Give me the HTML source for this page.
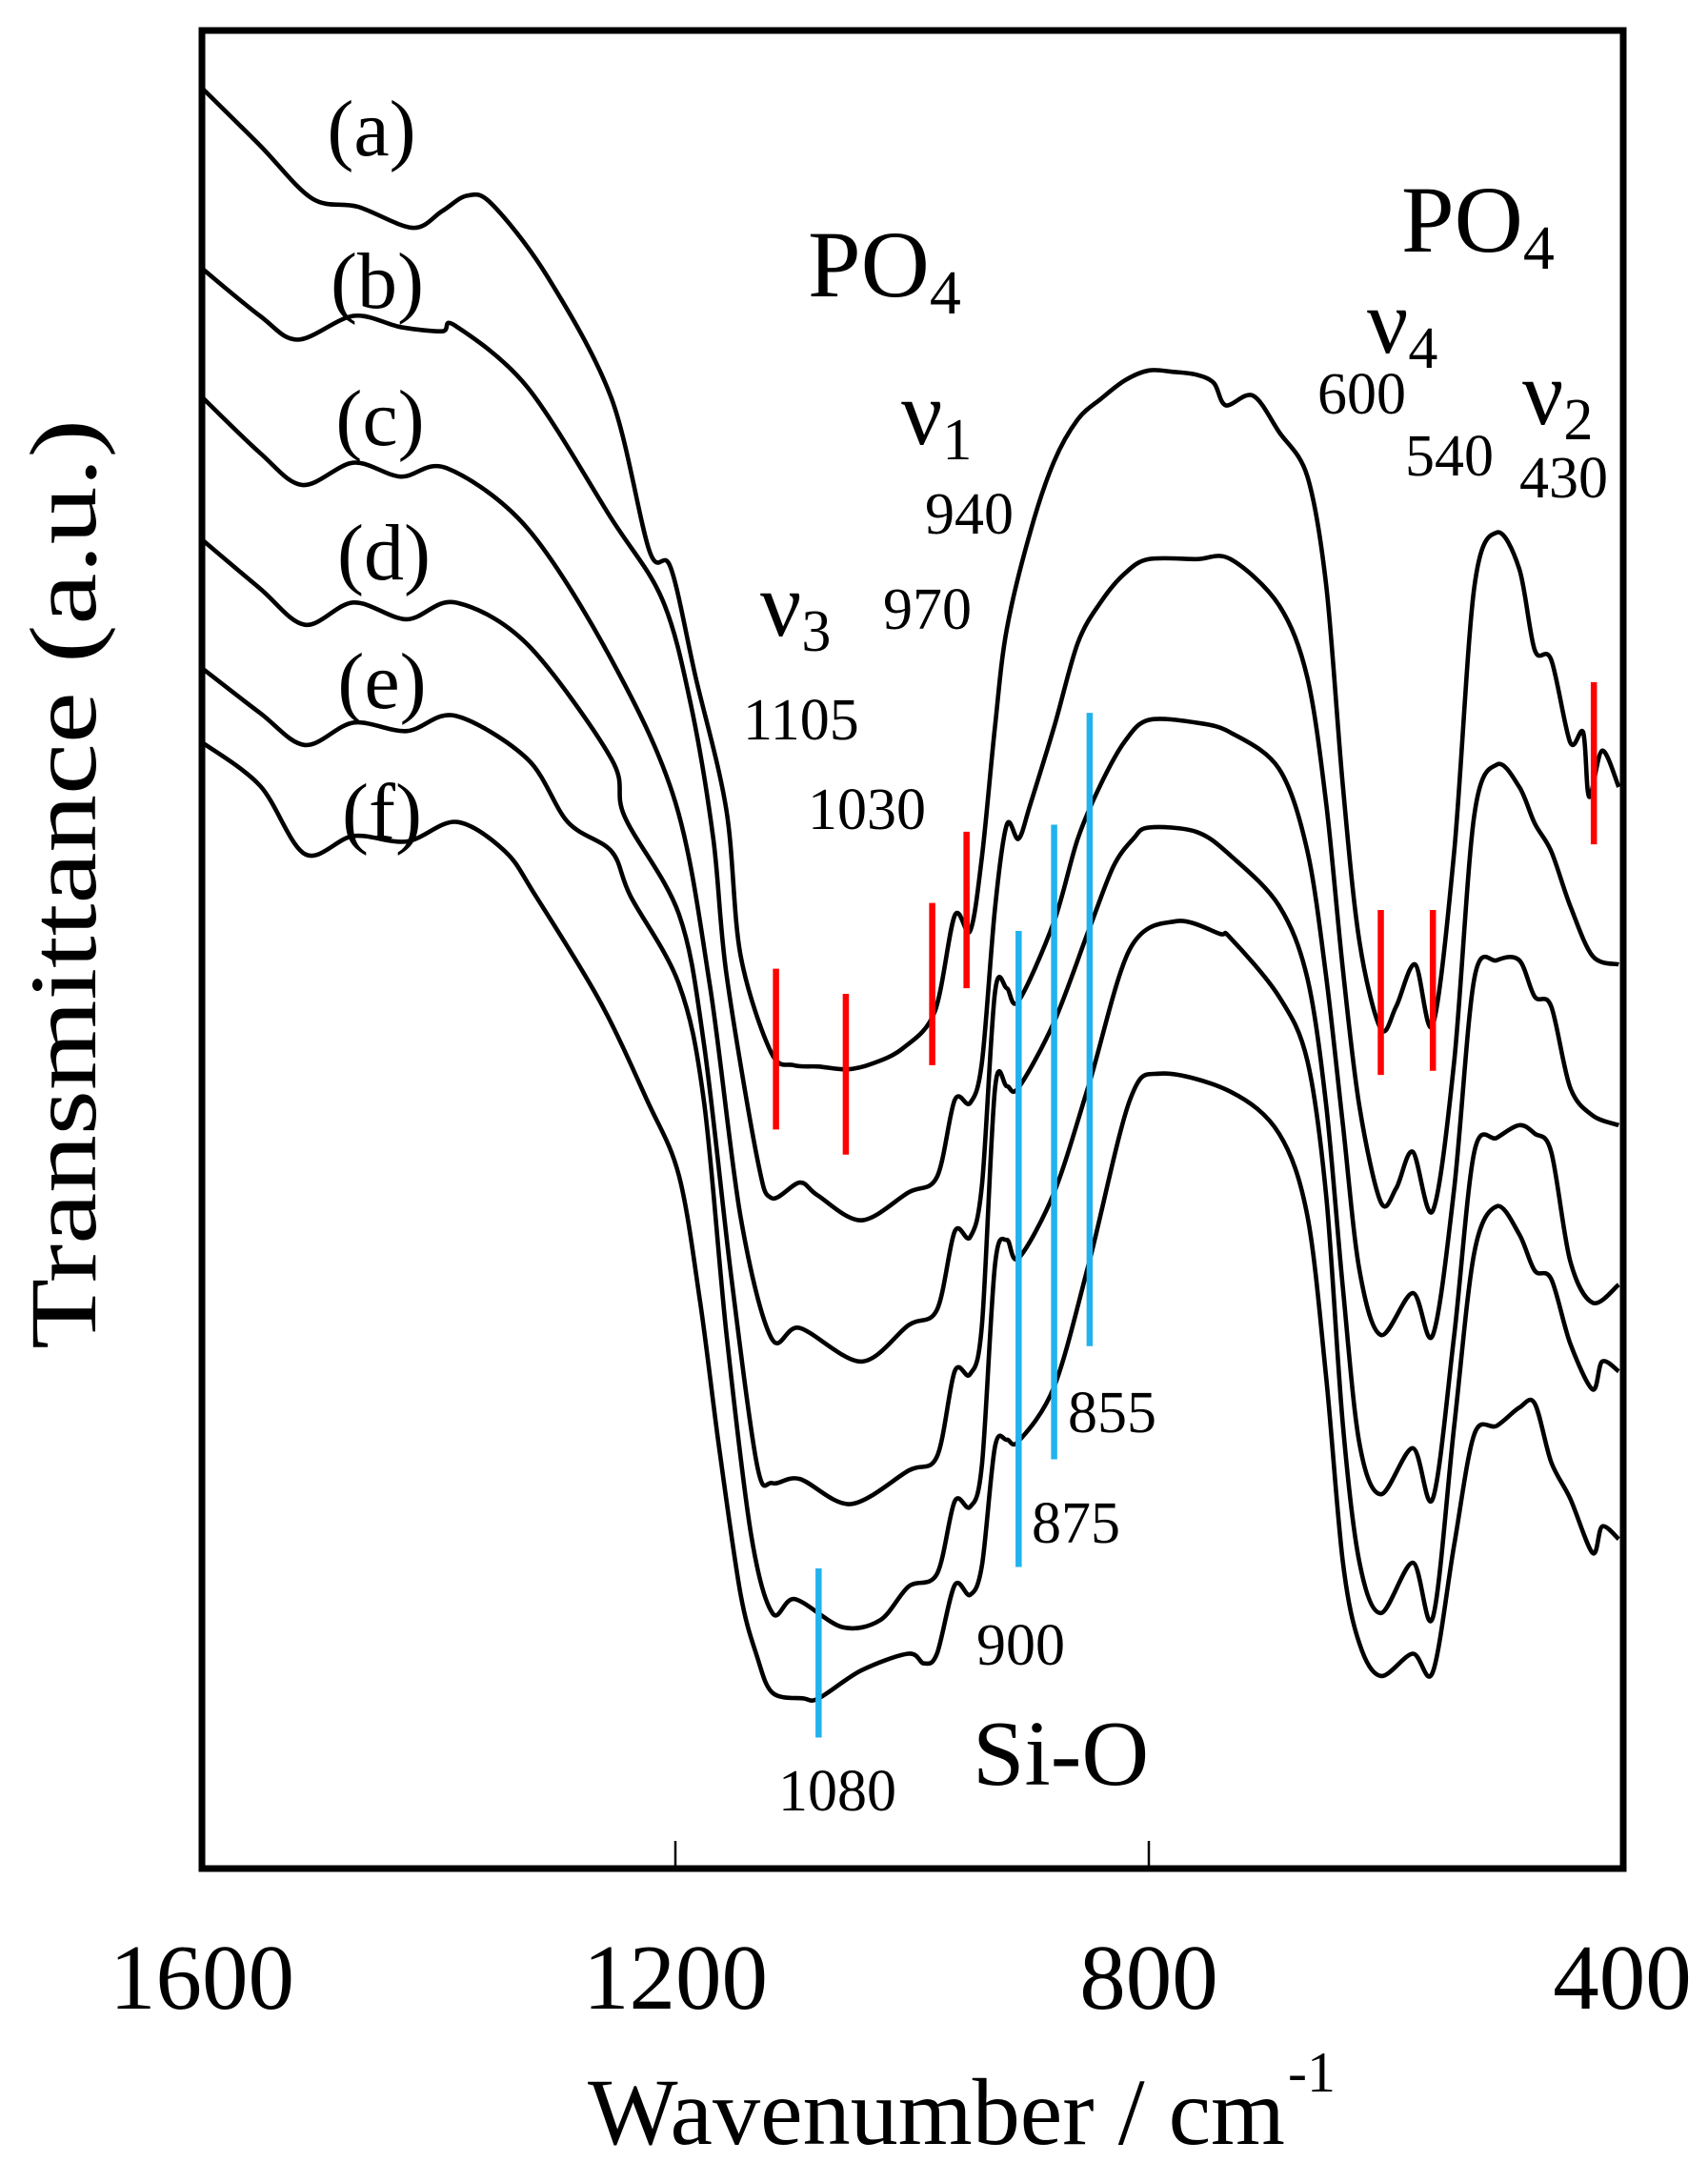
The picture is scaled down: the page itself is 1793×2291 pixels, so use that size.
<!DOCTYPE html>
<html><head><meta charset="utf-8"><style>
html,body{margin:0;padding:0;background:#fff}
svg{display:block}
text{font-family:"Liberation Serif",serif;fill:#000}
</style></head><body>
<svg id="chart" width="1793" height="2291" viewBox="0 0 1793 2291" xmlns="http://www.w3.org/2000/svg">
<rect x="0" y="0" width="1793" height="2291" fill="#fff"/>
<g id="curves"></g>
<g id="markers"></g>
<rect x="212" y="32" width="1492" height="1929" fill="none" stroke="#000" stroke-width="7"/>
<g id="ticks"></g>
<text x="617" y="2250" font-size="100" textLength="732" lengthAdjust="spacingAndGlyphs">Wavenumber / cm</text>
<text x="1352" y="2195" font-size="60">-1</text>
<text transform="translate(100,928) rotate(-90)" text-anchor="middle" font-size="100" textLength="976" lengthAdjust="spacingAndGlyphs">Transmittance (a.u.)</text>

<text x="390" y="163" font-size="84" text-anchor="middle">(a)</text>
<text x="396" y="323" font-size="84" text-anchor="middle">(b)</text>
<text x="399" y="467" font-size="84" text-anchor="middle">(c)</text>
<text x="403" y="608" font-size="84" text-anchor="middle">(d)</text>
<text x="401" y="743" font-size="84" text-anchor="middle">(e)</text>
<text x="401" y="880" font-size="84" text-anchor="middle">(f)</text>

<text x="848" y="311" font-size="100">PO<tspan font-size="66" dy="18">4</tspan></text>
<text x="1471" y="264" font-size="100">PO<tspan font-size="66" dy="18">4</tspan></text>
<text x="798" y="667" font-size="96">ν<tspan font-size="62" dy="16">3</tspan></text>
<text x="946" y="466" font-size="96">ν<tspan font-size="62" dy="16">1</tspan></text>
<text x="1435" y="370" font-size="96">ν<tspan font-size="62" dy="16">4</tspan></text>
<text x="1598" y="445" font-size="96">ν<tspan font-size="62" dy="16">2</tspan></text>
<text x="780" y="776" font-size="62">1105</text>
<text x="848" y="870" font-size="62">1030</text>
<text x="927" y="660" font-size="62">970</text>
<text x="971" y="560" font-size="62">940</text>
<text x="1383" y="434" font-size="62">600</text>
<text x="1475" y="499" font-size="62">540</text>
<text x="1595" y="522" font-size="62">430</text>
<text x="1121" y="1503" font-size="62">855</text>
<text x="1083" y="1619" font-size="62">875</text>
<text x="1025" y="1747" font-size="62">900</text>
<text x="817" y="1900" font-size="62">1080</text>
<text x="1021" y="1873" font-size="98">Si-O</text>
</svg>
<script>
const wn_a=[1600,1551,1507,1468,1422,1397,1376,1355,1308,1254,1222,1204,1183,1157,1145,1119,1100,1079,1055,1034,1008,981,964,951,941,930,920,900,880,860,840,820,800,780,760,745,735,712,690,666,650,636,622,604,591,575,560,542,525,506,487,474,460,444,433,428,417,403];
const tr_a=[1277,1236,1198,1192,1177,1189,1200,1194,1142,1055,946,934,856,761,657,587,578,577,575,579,590,616,685,674,727,820,890,960,1010,1040,1055,1068,1075,1074,1072,1066,1050,1057,1031,999,920,777,666,604,620,650,607,731,920,959,933,875,868,809,816,770,803,777];
const wn_b=[1600,1551,1519,1472,1432,1397,1386,1325,1254,1211,1187,1168,1157,1131,1119,1095,1080,1043,1003,979,964,951,941,930,920,910,900,880,860,840,820,800,760,731,690,666,650,636,622,604,591,577,560,542,525,506,487,474,460,444,425,403];
const tr_b=[1148,1114,1097,1114,1106,1103,1107,1063,969,911,836,740,644,512,483,494,485,467,487,498,553,551,580,690,750,740,765,820,880,910,930,940,940,940,907,855,764,646,548,480,490,516,474,581,757,793,777,751,731,692,656,650];
const wn_c=[1600,1551,1515,1472,1432,1393,1325,1254,1200,1171,1145,1119,1095,1043,1003,979,964,951,941,930,920,910,880,860,840,820,800,760,731,690,666,650,636,622,604,577,560,542,525,506,487,474,460,444,425,403];
const tr_c=[1056,1016,993,1009,999,1005,962,868,766,636,470,383,390,366,392,403,459,455,492,630,633,624,681,740,780,810,825,823,816,790,731,640,535,431,385,415,385,490,640,653,653,627,620,562,542,535];
const wn_d=[1600,1551,1513,1472,1427,1386,1325,1254,1243,1197,1176,1153,1131,1118,1095,1052,1003,979,964,951,941,930,920,910,880,851,830,813,800,760,731,690,666,650,636,622,604,577,560,542,525,506,487,474,460,444,425,403];
const tr_d=[954,919,893,909,897,909,879,797,756,686,594,428,292,279,282,264,288,298,359,357,392,561,563,562,609,674,720,740,748,745,728,692,640,548,418,307,271,304,268,385,516,526,535,529,516,438,408,421];
const wn_e=[1600,1551,1513,1472,1427,1386,1325,1291,1254,1238,1197,1176,1157,1136,1118,1099,1059,1027,1003,979,964,951,941,930,920,910,880,851,816,777,740,731,690,666,650,636,622,604,577,560,542,525,506,487,474,460,444,425,417,403];
const tr_e=[862,830,807,823,817,828,797,752,731,699,636,553,387,242,186,196,176,181,205,214,266,262,292,435,453,440,487,563,661,681,672,669,627,581,483,320,222,186,222,183,320,444,477,457,431,425,379,346,366,359];
const wn_f=[1600,1551,1513,1472,1427,1385,1344,1318,1264,1224,1197,1179,1163,1145,1131,1118,1092,1079,1043,1003,990,979,964,951,941,930,920,910,880,851,816,790,731,690,666,650,636,622,604,577,560,542,525,506,487,474,460,444,425,417,403];
const tr_f=[809,778,729,742,738,752,731,699,624,553,499,408,304,200,155,129,125,125,145,157,150,157,206,199,220,305,310,309,348,435,553,572,559,529,470,353,222,164,141,157,144,235,314,320,333,336,294,268,229,248,239];
const seriesNames=["a","b","c","d","e","f"];
const redMarkWn=[1115,1056,983,954,604,560,424];
const redMarkTop=[647,629,694,745,689,689,852];
const redMarkBottom=[532,514,578,633,571,574,736];
const blueMarkWn=[1079,910,880,850];
const blueMarkTop=[218,674,750,830];
const blueMarkBottom=[97,219,296,377];
const tickValues=[1600,1200,800,400];
const tickLabels=["1600","1200","800","400"];

const NS="http://www.w3.org/2000/svg";
function xScale(w){return 212+(1600-w)*1.2425;}
function yScale(v){return (1340-v)*1.467;}
function smoothPath(pts){
  let d="M"+pts[0][0].toFixed(1)+","+pts[0][1].toFixed(1);
  for(let i=0;i<pts.length-1;i++){
    const p0=pts[Math.max(0,i-1)],p1=pts[i],p2=pts[i+1],p3=pts[Math.min(pts.length-1,i+2)];
    const t=0.16;
    const c1x=p1[0]+(p2[0]-p0[0])*t,c1y=p1[1]+(p2[1]-p0[1])*t;
    const c2x=p2[0]-(p3[0]-p1[0])*t,c2y=p2[1]-(p3[1]-p1[1])*t;
    d+=" C"+c1x.toFixed(1)+","+c1y.toFixed(1)+" "+c2x.toFixed(1)+","+c2y.toFixed(1)+" "+p2[0].toFixed(1)+","+p2[1].toFixed(1);
  }
  return d;
}
const curves=document.getElementById("curves");
const allWn=[wn_a,wn_b,wn_c,wn_d,wn_e,wn_f];
const allTr=[tr_a,tr_b,tr_c,tr_d,tr_e,tr_f];
for(let s=0;s<allWn.length;s++){
  const pts=allWn[s].map((w,i)=>[xScale(w),yScale(allTr[s][i])]);
  const p=document.createElementNS(NS,"path");
  p.setAttribute("d",smoothPath(pts));
  p.setAttribute("fill","none");
  p.setAttribute("stroke","#000");
  p.setAttribute("stroke-width","4.6");
  p.setAttribute("stroke-linejoin","round");
  
  
  curves.appendChild(p);
}
const markers=document.getElementById("markers");
for(let i=0;i<redMarkWn.length;i++){
  const l=document.createElementNS(NS,"line");
  const x=xScale(redMarkWn[i]);
  l.setAttribute("x1",x);l.setAttribute("x2",x);
  l.setAttribute("y1",yScale(redMarkTop[i]));l.setAttribute("y2",yScale(redMarkBottom[i]));
  l.setAttribute("stroke","#ff0000");l.setAttribute("stroke-width","6.5");
  
  
  markers.appendChild(l);
}
for(let i=0;i<blueMarkWn.length;i++){
  const l=document.createElementNS(NS,"line");
  const x=xScale(blueMarkWn[i]);
  l.setAttribute("x1",x);l.setAttribute("x2",x);
  l.setAttribute("y1",yScale(blueMarkTop[i]));l.setAttribute("y2",yScale(blueMarkBottom[i]));
  l.setAttribute("stroke","#22b2ee");l.setAttribute("stroke-width","6.5");
  
  
  markers.appendChild(l);
}
const ticks=document.getElementById("ticks");
for(let i=0;i<tickValues.length;i++){
  const x=xScale(tickValues[i]);
  if(i>0&&i<tickValues.length-1){
    const t=document.createElementNS(NS,"line");
    t.setAttribute("x1",x);t.setAttribute("x2",x);
    t.setAttribute("y1",1932);t.setAttribute("y2",1960);
    t.setAttribute("stroke","#000");t.setAttribute("stroke-width","2.5");
    
    
    ticks.appendChild(t);
  }
  const tx=document.createElementNS(NS,"text");
  tx.setAttribute("x",x);tx.setAttribute("y",2108);
  tx.setAttribute("text-anchor","middle");tx.setAttribute("font-size","97");
  tx.textContent=tickLabels[i];
  
  
  ticks.appendChild(tx);
}
</script>
</body></html>
